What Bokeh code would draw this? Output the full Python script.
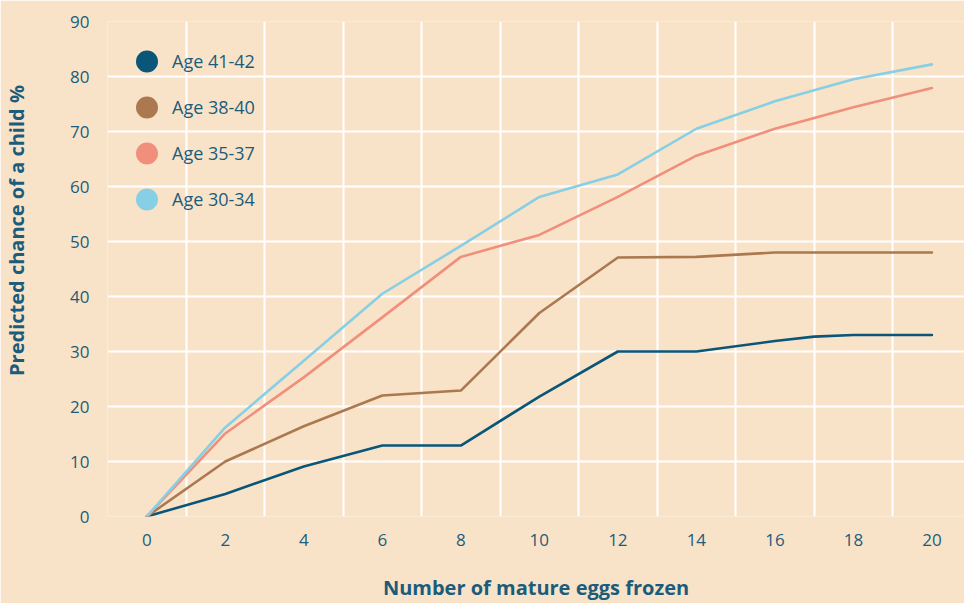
import math
from bokeh.plotting import figure
from bokeh.models import FixedTicker, Legend, LegendItem, Label, Range1d
from bokeh.embed import file_html
from bokeh.resources import INLINE

# ---- data ----
x_41_42 = [0, 2, 4, 6, 8, 10, 12, 14, 16, 17, 18, 20]
y_41_42 = [0, 4.1, 9.1, 12.9, 12.9, 21.8, 30, 30, 31.9, 32.7, 33, 33]

x_38_40 = [0, 2, 4, 6, 8, 10, 12, 14, 16, 18, 20]
y_38_40 = [0, 10, 16.4, 22, 22.9, 37, 47.1, 47.2, 48, 48, 48]

x_35_37 = [0, 2, 4, 6, 8, 10, 12, 14, 16, 18, 20]
y_35_37 = [0, 15.1, 25.3, 36.2, 47.2, 51.2, 58.1, 65.6, 70.5, 74.4, 77.9]

x_30_34 = [0, 2, 4, 6, 8, 10, 12, 14, 16, 18, 20]
y_30_34 = [0, 16.2, 28.3, 40.5, 49.2, 58.1, 62.2, 70.5, 75.5, 79.5, 82.2]

series_names = ["Age 41-42", "Age 38-40", "Age 35-37", "Age 30-34"]
x_ticks = [0, 2, 4, 6, 8, 10, 12, 14, 16, 18, 20]
y_ticks = [0, 10, 20, 30, 40, 50, 60, 70, 80, 90]
x_grid = [-1, 1, 3, 5, 7, 9, 11, 13, 15, 17, 19]

x_title = "Number of mature eggs frozen"
y_title = "Predicted chance of a child %"

# ---- styles ----
BG = "#f9e3c8"
TEXT = "#1b5c7c"
COLORS = ["#0a5678", "#ab7850", "#f08f7b", "#86cfe5"]
FONT = "Open Sans"
NAN = float("nan")

p = figure(width=964, height=603, output_backend="svg", toolbar_location=None,
           x_range=Range1d(-1, 20.83), y_range=Range1d(0, 90),
           min_border_left=107, min_border_right=0, min_border_top=21,
           min_border_bottom=87)
p.background_fill_color = BG
p.border_fill_color = BG
p.outline_line_color = None

# grid
p.xgrid.ticker = FixedTicker(ticks=x_grid)
p.ygrid.ticker = FixedTicker(ticks=y_ticks)
for g in (p.xgrid[0], p.ygrid[0]):
    g.grid_line_color = "white"
    g.grid_line_width = 2
    g.grid_line_alpha = 1

# axes
p.xaxis.ticker = FixedTicker(ticks=x_ticks)
p.yaxis.ticker = FixedTicker(ticks=y_ticks)
for ax in (p.xaxis[0], p.yaxis[0]):
    ax.axis_line_color = None
    ax.major_tick_line_color = None
    ax.minor_tick_line_color = None
    ax.major_tick_in = 0
    ax.major_tick_out = 0
    ax.major_label_text_font = FONT
    ax.major_label_text_font_size = "17px"
    ax.major_label_text_color = TEXT
p.yaxis.major_label_standoff = 18
p.xaxis.major_label_standoff = 17

p.xaxis.axis_label = x_title
p.xaxis.axis_label_text_font = FONT
p.xaxis.axis_label_text_font_size = "20px"
p.xaxis.axis_label_text_font_style = "bold"
p.xaxis.axis_label_text_color = TEXT
p.xaxis.axis_label_standoff = 25

# y title placed in the left side panel (not clipped to the frame)
ylab = Label(x=-24, y=286, x_units="screen", y_units="screen", text=y_title,
             angle=math.pi / 2, text_align="center", text_baseline="middle",
             text_font=FONT, text_font_size="20px", text_font_style="bold",
             text_color=TEXT)
p.add_layout(ylab, "left")

# lines
xs = [x_41_42, x_38_40, x_35_37, x_30_34]
ys = [y_41_42, y_38_40, y_35_37, y_30_34]
items = []
for name, xv, yv, c in zip(series_names, xs, ys, COLORS):
    p.line(xv, yv, line_color=c, line_width=2.6, line_join="round", line_cap="round")
    dummy = p.scatter(x=[NAN], y=[NAN], marker="circle", size=18,
                      fill_color=c, line_color=c, line_width=4)
    items.append(LegendItem(label=name, renderers=[dummy]))

legend = Legend(items=items, location="top_left", margin=17, padding=0,
                glyph_width=45, glyph_height=46, spacing=0, label_standoff=3,
                label_text_font=FONT, label_text_font_size="18px",
                label_text_color=TEXT, background_fill_alpha=0,
                border_line_color=None)
p.add_layout(legend)

open("out.html", "w").write(file_html(p, INLINE))
